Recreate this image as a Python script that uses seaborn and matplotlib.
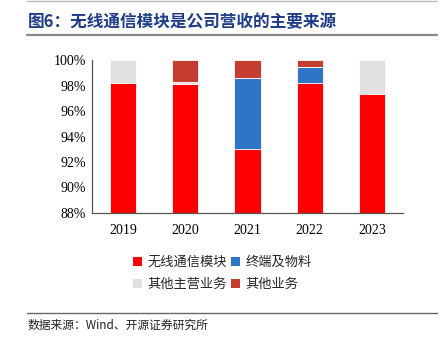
import matplotlib
matplotlib.use("Agg")
import matplotlib.pyplot as plt
from matplotlib.patches import Patch
from matplotlib.lines import Line2D
from matplotlib.ticker import FuncFormatter, MultipleLocator
import numpy as np
import pandas as pd
import seaborn as sns

years = ["2019", "2020", "2021", "2022", "2023"]
series_names = ["无线通信模块", "终端及物料", "其他主营业务", "其他业务"]
wireless = [98.17, 98.09, 93.02, 98.24, 97.38]
terminal = [0.0, 0.0, 5.59, 1.26, 0.0]
other_main = [1.83, 0.18, 0.0, 0.0, 2.62]
other_biz = [0.0, 1.73, 1.39, 0.50, 0.0]
colors = ["#FF0000", "#2E75C6", "#E0E0E0", "#C43D30"]
yticks = [88, 90, 92, 94, 96, 98, 100]

sns.set_theme(style="white")
plt.rcParams["font.family"] = ["Liberation Serif", "Noto Sans CJK SC", "DejaVu Sans"]

fig = plt.figure(figsize=(4.44, 3.4), dpi=100)
ax = fig.add_axes([0.207, 0.374, 0.701, 0.449])

stacks = [wireless, terminal, other_main, other_biz]
cum = np.cumsum(np.array(stacks), axis=0)
for i in range(len(stacks) - 1, -1, -1):
    df = pd.DataFrame({"year": years, "val": cum[i]})
    sns.barplot(data=df, x="year", y="val", color=colors[i], width=0.42,
                edgecolor="white", linewidth=0.6, saturation=1, ax=ax)

ax.set_ylim(88, 100)
ax.set_xlim(-0.5, 4.5)
ax.set_yticks(yticks)
ax.yaxis.set_major_formatter(FuncFormatter(lambda v, p: f"{v:.0f}%"))
ax.set_xlabel("")
ax.set_ylabel("")
for s in ["top", "right"]:
    ax.spines[s].set_visible(False)
for s in ["left", "bottom"]:
    ax.spines[s].set_color("#555555")
    ax.spines[s].set_linewidth(0.9)
ax.tick_params(axis="both", labelsize=10, colors="#000000", pad=4)
ax.tick_params(axis="y", length=0)
ax.tick_params(axis="x", length=0, pad=8)
# minor ticks between categories on x-axis
ax.set_xticks([0.5, 1.5, 2.5, 3.5, 4.5], minor=True)
ax.tick_params(axis="x", which="minor", direction="in", length=4, color="#555555", width=0.9)

handles = [Patch(facecolor=c, edgecolor="none") for c in colors]
order = [0, 2, 1, 3]
fig.legend([handles[i] for i in order], [series_names[i] for i in order],
           ncol=2, loc="center", bbox_to_anchor=(0.5, 0.195), frameon=False,
           handlelength=0.7, handleheight=0.7, handletextpad=0.4, columnspacing=0.3,
           labelspacing=0.7, prop={"family": ["Noto Sans CJK SC", "DejaVu Sans"], "size": 9.5})

# title and decorative lines
fig.add_artist(Line2D([0.061, 0.985], [0.997, 0.997], color="#BBBBBB", lw=1.0))
fig.add_artist(Line2D([0.061, 0.985], [0.898, 0.898], color="#888888", lw=1.6))
fig.text(0.063, 0.935, "图6：无线通信模块是公司营收的主要来源", color="#1F3C88",
         fontsize=12, fontweight="bold", va="center", ha="left",
         family=["Noto Sans CJK SC", "DejaVu Sans"])
fig.add_artist(Line2D([0.061, 0.985], [0.079, 0.079], color="#666666", lw=1.0))
fig.text(0.061, 0.043, "数据来源：Wind、开源证券研究所", color="#222222",
         fontsize=8.5, va="center", ha="left",
         family=["Noto Sans CJK SC", "DejaVu Sans"])

fig.savefig("out.png", dpi=100)
